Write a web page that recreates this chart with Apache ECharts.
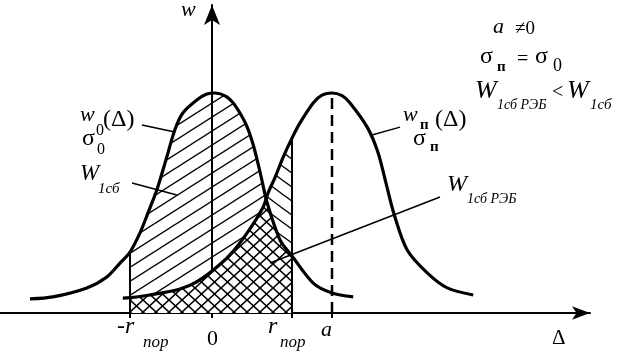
<!DOCTYPE html>
<html><head><meta charset="utf-8">
<script src="https://cdn.jsdelivr.net/npm/echarts@6/dist/echarts.min.js"></script>
<style>html,body{margin:0;padding:0;background:#fff}#c{width:635px;height:363px}</style>
</head><body><div id="c"></div>
<script>
// ---- data (Δ units: a = 3, r_пор = 2; w: peak = 10) ----
const rNeg = -2.05;
const rPos = 2.0;
const aVal = 3.0;
const tickValues = [rNeg, 0, rPos, aVal];
const crossPoint = [1.36, 5.1];   // where the two curves intersect

const w0Curve = [[-4.55,0.64],[-3.98,0.73],[-3.13,1.14],[-2.63,1.64],[-2.3,2.27],[-2.05,2.77],
  [-1.8,3.64],[-1.6,4.55],[-1.38,5.59],[-1.13,7.09],[-0.93,8.32],[-0.73,9.09],[-0.38,9.68],
  [-0.13,9.95],[0.08,10.0],[0.35,9.85],[0.55,9.5],[0.72,9.02],[0.88,8.45],[1.03,7.65],
  [1.15,6.8],[1.24,6.1],[1.38,5.0],[1.7,3.32],
  [2.0,2.59],[2.53,1.36],[3.0,0.91],[3.53,0.73]];

const wpCurve = [[-2.23,0.68],[-2.05,0.7],[-1.55,0.82],[-0.8,1.09],[-0.38,1.41],[0.03,1.95],
  [0.45,2.64],[0.88,3.64],[1.28,4.82],[1.4,5.45],[1.58,6.18],[1.78,7.09],[2.0,7.95],
  [2.2,8.64],[2.53,9.55],[2.75,9.9],[3.0,10.0],[3.25,9.88],[3.45,9.55],[3.88,8.45],[4.15,7.3],[4.35,5.9],
  [4.55,4.5],[4.88,2.86],[5.38,1.82],[5.88,1.14],[6.53,0.82]];

// leader lines [label end, curve end]
const leaderW0 = [[-1.75,8.55],[-0.93,8.23]];
const leaderW1 = [[-2.0,5.91],[-0.88,5.36]];
const leaderWp = [[4.7,8.45],[4.0,8.09]];
const leaderW1reb = [[5.7,5.27],[1.45,2.27]];

// ---- hatch patterns ----
function hatch(w, h, dirs, bg, lw) {
  const c = document.createElement('canvas');
  c.width = w; c.height = h;
  const g = c.getContext('2d');
  if (bg) { g.fillStyle = bg; g.fillRect(0, 0, w, h); }
  g.strokeStyle = '#000'; g.lineWidth = lw; g.lineCap = 'butt';
  dirs.forEach(function (d) {
    for (let k = -3; k <= 3; k++) {
      g.beginPath();
      if (d === '/') { g.moveTo(k*w + w, -h); g.lineTo(k*w - 2*w, 2*h); }
      else { g.moveTo(k*w - w, -h); g.lineTo(k*w + 2*w, 2*h); }
      g.stroke();
    }
  });
  return { image: c, repeat: 'repeat' };
}
const patSlash = hatch(22, 14, ['/'], null, 1.4);
const patBack = hatch(19, 14, ['\\'], null, 1.4);
const patCross = hatch(13, 12, ['/', '\\'], '#fff', 1.6);

const inR = p => p[0] >= rNeg && p[0] <= rPos;
const w0In = w0Curve.filter(inR);
const wpIn = wpCurve.filter(inR);
const crossArea = wpCurve.filter(p => p[0] >= rNeg && p[0] < crossPoint[0])
  .concat([crossPoint])
  .concat(w0Curve.filter(p => p[0] > crossPoint[0] && p[0] <= rPos));
const valAt = (arr, x) => arr.find(p => p[0] === x)[1];

const chart = echarts.init(document.getElementById('c'), null, {renderer: 'canvas'});
const black = '#000';
function seg(data, extra) {
  return Object.assign({type: 'line', data: data, symbol: 'none', silent: true, clip: false,
    lineStyle: {color: black, width: 1.5}, z: 6}, extra || {});
}
chart.setOption({
  animation: false,
  backgroundColor: '#fff',
  grid: {left: 0, right: 45, top: 5, bottom: 50},
  xAxis: {type: 'value', min: -5.3, max: 9.45,
    axisLine: {show: true, onZero: false, symbol: ['none', 'arrow'], symbolSize: [10, 18],
      symbolOffset: [0, 0], lineStyle: {color: black, width: 2}},
    axisTick: {show: true, customValues: tickValues, length: 5, lineStyle: {color: black, width: 2}},
    axisLabel: {show: false}, splitLine: {show: false}},
  yAxis: {type: 'value', min: 0, max: 14,
    axisLine: {show: true, onZero: true, symbol: ['none', 'arrow'], symbolSize: [12, 20],
      symbolOffset: [0, 0], lineStyle: {color: black, width: 2}},
    axisTick: {show: false}, axisLabel: {show: false}, splitLine: {show: false}},
  series: [
    {type: 'line', data: w0In, smooth: 0.3, symbol: 'none', silent: true,
      lineStyle: {opacity: 0}, areaStyle: {color: patSlash, opacity: 1}, z: 1},
    {type: 'line', data: wpIn, smooth: 0.3, symbol: 'none', silent: true,
      lineStyle: {opacity: 0}, areaStyle: {color: patBack, opacity: 1}, z: 2},
    {type: 'line', data: crossArea, smooth: 0.3, symbol: 'none', silent: true,
      lineStyle: {opacity: 0}, areaStyle: {color: patCross, opacity: 1}, z: 3},
    seg(w0Curve, {smooth: 0.3, lineStyle: {color: black, width: 3.2}, z: 8}),
    seg(wpCurve, {smooth: 0.3, lineStyle: {color: black, width: 3.2}, z: 8}),
    seg([[rNeg, 0], [rNeg, valAt(w0Curve, rNeg)]], {lineStyle: {color: black, width: 2}}),
    seg([[rPos, 0], [rPos, valAt(wpCurve, rPos)]], {lineStyle: {color: black, width: 2}}),
    seg([[aVal, 0], [aVal, valAt(wpCurve, aVal)]], {lineStyle: {color: black, width: 2.5, type: [11, 6]}}),
    seg(leaderW0), seg(leaderW1), seg(leaderWp), seg(leaderW1reb)
  ]
});

// ---- text ----
const FONT = '"Liberation Serif", "Times New Roman", serif';
function T(str, x, base, fs, it, bold) {
  return {type: 'text', z: 100, silent: true,
    style: {text: str, x: x, y: base - 0.34 * fs, fill: black, align: 'left', verticalAlign: 'middle',
      font: (it ? 'italic ' : '') + (bold ? 'bold ' : '') + fs + 'px ' + FONT}};
}
const px = v => chart.convertToPixel({gridIndex: 0}, [v, 0])[0];
const tN = px(rNeg), t0 = px(0), tP = px(rPos), tA = px(aVal);
const texts = [
  T('w', 181, 18, 22, true),
  T('w', 80, 123, 22, true), T('0', 96, 136, 16), T('(Δ)', 103, 128, 24),
  T('σ', 82, 147, 24), T('0', 97, 155, 16),
  T('W', 80, 182, 23, true), T('1сб', 98, 194, 15, true),
  T('w', 403, 123, 22, true), T('п', 420, 130, 15, false, true), T('(Δ)', 435, 128, 24),
  T('σ', 413, 147, 24), T('п', 430, 152, 15, false, true),
  T('W', 447, 193, 24, true), T('1сб РЭБ', 467, 204, 14, true),
  T('a', 493, 35, 22, true), T('≠0', 515, 35, 19),
  T('σ', 480, 65, 24), T('п', 497, 72, 15, false, true), T('=', 517, 67, 20),
  T('σ', 535, 65, 24), T('0', 553, 72, 18),
  T('W', 475, 100, 26, true), T('1сб РЭБ', 497, 110, 14, true), T('<', 552, 100, 20),
  T('W', 567, 100, 26, true), T('1сб', 590, 110, 15, true),
  T('-r', tN - 13, 335, 24, true), T('пор', tN + 13, 348, 17, true),
  T('0', t0 - 5, 347, 22),
  T('r', tP - 24, 335, 24, true), T('пор', tP - 12, 348, 17, true),
  T('a', tA - 11, 338, 22, true),
  T('Δ', 552, 346, 21)
];
chart.setOption({graphic: {elements: texts}});
</script>
</body></html>
